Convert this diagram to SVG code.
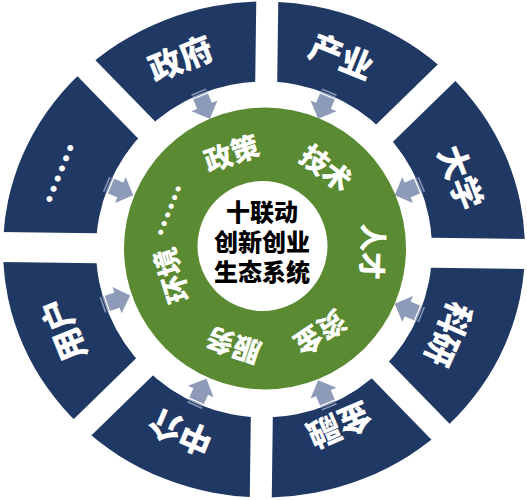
<svg xmlns="http://www.w3.org/2000/svg" xmlns:xlink="http://www.w3.org/1999/xlink" width="527" height="500" viewBox="0 0 527 500">
<defs>
<style>
.seg { fill: #1f3864; }
.lbl { font-family: "Noto Sans CJK SC", "Noto Sans CJK JP", sans-serif; font-weight: 900; fill: #ffffff; text-anchor: middle; dominant-baseline: central; }
.outer { font-size: 33px; }
.inner { font-size: 28px; }
.core { font-family: "Noto Sans CJK SC", "Noto Sans CJK JP", sans-serif; font-weight: 900; fill: #000000; text-anchor: middle; dominant-baseline: central; font-size: 24px; }
.arrow { fill: #8d9bb8; }
</style>
<path id="ring" fill-rule="evenodd" d="M -261 0 A 261 248 0 1 1 261 0 A 261 248 0 1 1 -261 0 Z M -168 0 A 168 168 0 1 0 168 0 A 168 168 0 1 0 -168 0 Z"/>
<clipPath id="c1"><polygon transform="translate(0,1) rotate(0.75)" points="11,-28 11,-478 230,-554 329,-346"/></clipPath>
<clipPath id="c2"><polygon transform="translate(0,1) rotate(0.75)" points="32,-15 350,-333 554,-230 482,-15"/></clipPath>
<clipPath id="c3"><polygon transform="translate(0,1) rotate(0.75)" points="32,15 482,15 554,230 350,333"/></clipPath>
<clipPath id="c4"><polygon transform="translate(0,1) rotate(0.75)" points="11,28 329,346 230,554 11,478"/></clipPath>
<clipPath id="c5"><polygon transform="translate(0,1) rotate(0.75)" points="-11,28 -11,478 -230,554 -329,346"/></clipPath>
<clipPath id="c6"><polygon transform="translate(0,1) rotate(0.75)" points="-32,15 -350,333 -554,230 -482,15"/></clipPath>
<clipPath id="c7"><polygon transform="translate(0,1) rotate(0.75)" points="-32,-15 -482,-15 -554,-230 -350,-333"/></clipPath>
<clipPath id="c8"><polygon transform="translate(0,1) rotate(0.75)" points="-11,-28 -329,-346 -230,-554 -11,-478"/></clipPath>
<g id="arr" class="arrow">
<rect x="-8" y="-171" width="16" height="1.5"/>
<rect x="-8" y="-168.3" width="16" height="1.5"/>
<rect x="-8" y="-165.6" width="16" height="10.6"/>
<polygon points="-14,-155.5 14,-155.5 0,-141.5"/>
</g>
</defs>

<rect x="0" y="0" width="527" height="500" fill="#ffffff"/>

<g id="seg-chanye">
<use href="#ring" class="seg" transform="translate(264,249.5)" clip-path="url(#c1)"/>
<text class="lbl outer" transform="translate(342,55) rotate(22)">产业</text>
</g>
<g id="seg-daxue">
<use href="#ring" class="seg" transform="translate(264,249.5)" clip-path="url(#c2)"/>
<text class="lbl outer" transform="translate(462,177) rotate(69)">大学</text>
</g>
<g id="seg-keyan">
<use href="#ring" class="seg" transform="translate(264,249.5)" clip-path="url(#c3)"/>
<text class="lbl outer" transform="translate(450,335) rotate(114)">科研</text>
</g>
<g id="seg-jinrong">
<use href="#ring" class="seg" transform="translate(264,249.5)" clip-path="url(#c4)"/>
<text class="lbl outer" transform="translate(340,427) rotate(157)">金融</text>
</g>
<g id="seg-zhongjie">
<use href="#ring" class="seg" transform="translate(264,249.5)" clip-path="url(#c5)"/>
<text class="lbl outer" transform="translate(180,434) rotate(203)">中介</text>
</g>
<g id="seg-yonghu">
<use href="#ring" class="seg" transform="translate(264,249.5)" clip-path="url(#c6)"/>
<text class="lbl outer" transform="translate(62,330) rotate(248)">用户</text>
</g>
<g id="seg-more">
<use href="#ring" class="seg" transform="translate(264,249.5)" clip-path="url(#c7)"/>
<text class="lbl outer" transform="translate(58.5,173) rotate(292)">……</text>
</g>
<g id="seg-zhengfu">
<use href="#ring" class="seg" transform="translate(264,249.5)" clip-path="url(#c8)"/>
<text class="lbl outer" transform="translate(180,57) rotate(-22)">政府</text>
</g>

<g id="hub">
<circle cx="265" cy="248.5" r="141" fill="#5a8a31"/>
<circle cx="262.5" cy="246" r="65" fill="#ffffff"/>
<text class="core"><tspan x="262" y="210">十联动</tspan><tspan x="262" y="240">创新创业</tspan><tspan x="262" y="270">生态系统</tspan></text>
</g>

<g id="f-zhengce"><text class="lbl inner" transform="translate(231,152) rotate(-19)">政策</text></g>
<g id="f-jishu"><text class="lbl inner" transform="translate(327,167) rotate(37)">技术</text></g>
<g id="f-rencai"><text class="lbl inner" transform="translate(374,252) rotate(92)">人才</text></g>
<g id="f-zijin"><text class="lbl inner" transform="translate(321,334) rotate(146)">资金</text></g>
<g id="f-fuwu"><text class="lbl inner" transform="translate(233,347) rotate(198)">服务</text></g>
<g id="f-huanjing"><text class="lbl inner" transform="translate(170,276) rotate(253)">环境</text></g>
<g id="f-more"><text class="lbl inner" transform="translate(168,210) rotate(292)">……</text></g>

<g id="connectors">
<use href="#arr" transform="translate(264,249.5) rotate(-22.5)"/>
<use href="#arr" transform="translate(264,249.5) rotate(22.5)"/>
<use href="#arr" transform="translate(264,249.5) rotate(67.5)"/>
<use href="#arr" transform="translate(264,249.5) rotate(112.5)"/>
<use href="#arr" transform="translate(264,249.5) rotate(157.5)"/>
<use href="#arr" transform="translate(264,249.5) rotate(204)"/>
<use href="#arr" transform="translate(264,249.5) rotate(251)"/>
<use href="#arr" transform="translate(264,249.5) rotate(292.5)"/>
</g>
</svg>
